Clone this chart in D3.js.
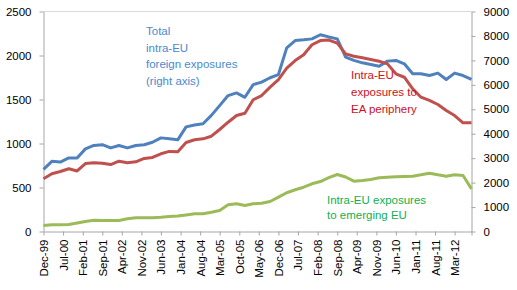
<!DOCTYPE html>
<html>
<head>
<meta charset="utf-8">
<script src="https://cdn.jsdelivr.net/npm/d3@7"></script>
<style>
  body { margin: 0; background: #fff; }
  svg { display: block; font-family: "Liberation Sans", Arial, sans-serif; }
</style>
</head>
<body>
<svg id="chart" width="517" height="290"></svg>
<script>
// quarterly observations, Dec-99 .. Sep-12
var quarters = [
    "Dec-99", "Mar-00", "Jun-00", "Sep-00", "Dec-00", "Mar-01", "Jun-01", "Sep-01",
    "Dec-01", "Mar-02", "Jun-02", "Sep-02", "Dec-02", "Mar-03", "Jun-03", "Sep-03",
    "Dec-03", "Mar-04", "Jun-04", "Sep-04", "Dec-04", "Mar-05", "Jun-05", "Sep-05",
    "Dec-05", "Mar-06", "Jun-06", "Sep-06", "Dec-06", "Mar-07", "Jun-07", "Sep-07",
    "Dec-07", "Mar-08", "Jun-08", "Sep-08", "Dec-08", "Mar-09", "Jun-09", "Sep-09",
    "Dec-09", "Mar-10", "Jun-10", "Sep-10", "Dec-10", "Mar-11", "Jun-11", "Sep-11",
    "Dec-11", "Mar-12", "Jun-12", "Sep-12"
];

// total intra-EU foreign exposures (right axis)
var totalExposures = [
    2540, 2870, 2840, 3010, 3010, 3380, 3520, 3550, 3420, 3520, 3420, 3520,
    3550, 3650, 3830, 3790, 3750, 4280, 4360, 4410, 4750, 5150, 5560, 5670,
    5490, 6010, 6110, 6290, 6420, 7510, 7810, 7840, 7880, 8050, 7960, 7880,
    7130, 7000, 6900, 6830, 6760, 6970, 7000, 6860, 6450, 6450, 6380, 6480,
    6220, 6480, 6380, 6220
];

// intra-EU exposures to EA periphery (left axis)
var peripheryExposures = [
    600, 656, 682, 713, 688, 772, 782, 776, 761, 799, 781, 792,
    830, 842, 883, 910, 905, 1012, 1042, 1053, 1083, 1159, 1242, 1318,
    1344, 1497, 1545, 1640, 1727, 1856, 1943, 2008, 2122, 2170, 2175, 2140,
    2019, 1992, 1974, 1955, 1935, 1905, 1792, 1753, 1622, 1526, 1489, 1443,
    1375, 1318, 1235, 1235
];

// intra-EU exposures to emerging EU (left axis)
var emergingExposures = [
    68, 76, 77, 80, 97, 114, 128, 126, 125, 125, 144, 156,
    156, 156, 161, 170, 176, 188, 201, 201, 219, 239, 303, 315,
    295, 315, 322, 341, 390, 440, 474, 503, 542, 568, 612, 648,
    619, 572, 580, 591, 610, 617, 622, 625, 628, 644, 663, 644,
    628, 644, 636, 485
];

var leftTicks = [0, 500, 1000, 1500, 2000, 2500];
var rightTicks = [0, 1000, 2000, 3000, 4000, 5000, 6000, 7000, 8000, 9000];
var dateTicks = [
    "Dec-99", "Jul-00", "Feb-01", "Sep-01", "Apr-02", "Nov-02", "Jun-03", "Jan-04",
    "Aug-04", "Mar-05", "Oct-05", "May-06", "Dec-06", "Jul-07", "Feb-08", "Sep-08",
    "Apr-09", "Nov-09", "Jun-10", "Jan-11", "Aug-11", "Mar-12"
];

var totalLabel = ["Total", "intra-EU", "foreign exposures", "(right axis)"];
var peripheryLabel = ["Intra-EU", "exposures to", "EA periphery"];
var emergingLabel = ["Intra-EU exposures", "to emerging EU"];

var parse = d3.timeParse("%b-%y");
var dates = quarters.map(parse);

var LEFT = 43.5, RIGHT = 471.5, TOP = 11.5, BOTTOM = 231.5;
var AXIS_COLOR = "#a6a6a6";

var svg = d3.select("#chart");

var x = d3.scaleTime()
    .domain([dates[0], dates[dates.length - 1]])
    .range([LEFT, RIGHT]);
var yLeft = d3.scaleLinear().domain([0, 2500]).range([BOTTOM, TOP]);
var yRight = d3.scaleLinear().domain([0, 9000]).range([BOTTOM, TOP]);

// plot frame top edge
svg.append("line")
    .attr("x1", LEFT).attr("x2", RIGHT)
    .attr("y1", TOP).attr("y2", TOP)
    .attr("stroke", "#d9d9d9");

function styleAxis(g) {
    g.selectAll(".domain, .tick line").attr("stroke", AXIS_COLOR);
    g.selectAll(".tick text")
        .attr("fill", "#000")
        .style("font-size", "11.5px")
        .style("font-family", "\"Liberation Sans\", Arial, sans-serif");
}

svg.append("g")
    .attr("transform", "translate(" + LEFT + ",0)")
    .call(d3.axisLeft(yLeft).tickValues(leftTicks).tickFormat(d3.format("d"))
        .tickSize(4).tickSizeOuter(0).tickPadding(8))
    .call(styleAxis);

svg.append("g")
    .attr("transform", "translate(" + RIGHT + ",0)")
    .call(d3.axisRight(yRight).tickValues(rightTicks).tickFormat(d3.format("d"))
        .tickSize(4).tickSizeOuter(0).tickPadding(8))
    .call(styleAxis);

var xAxis = svg.append("g")
    .attr("transform", "translate(0," + BOTTOM + ")")
    .call(d3.axisBottom(x)
        .tickValues(dateTicks.map(parse).concat([x.domain()[1]]))
        .tickFormat(function (d, i) { return dateTicks[i] || ""; })
        .tickSize(4).tickSizeOuter(0))
    .call(styleAxis);

xAxis.selectAll(".tick text")
    .attr("transform", "rotate(-90)")
    .attr("text-anchor", "end")
    .attr("x", -8)
    .attr("y", 0)
    .attr("dy", "0.35em");

// series lines
var series = [
    { values: totalExposures, scale: yRight, color: "#4f81bd" },
    { values: peripheryExposures, scale: yLeft, color: "#c0504d" },
    { values: emergingExposures, scale: yLeft, color: "#9bbb59" }
];

series.forEach(function (s) {
    var line = d3.line()
        .x(function (d, i) { return x(dates[i]); })
        .y(function (d) { return s.scale(d); });
    svg.append("path")
        .datum(s.values)
        .attr("fill", "none")
        .attr("stroke", s.color)
        .attr("stroke-width", 3)
        .attr("stroke-linejoin", "round")
        .attr("d", line);
});

// in-chart labels
function addLabel(lines, px, py, step, color) {
    var t = svg.append("text")
        .attr("fill", color)
        .style("font-size", "11.5px");
    t.selectAll("tspan")
        .data(lines)
        .join("tspan")
        .attr("x", px)
        .attr("y", function (d, i) { return py + i * step; })
        .text(function (d) { return d; });
}

addLabel(totalLabel, 146, 35, 16.5, "#4a8ad0");
addLabel(peripheryLabel, 351, 79, 17, "#d01020");
addLabel(emergingLabel, 327, 203.5, 15, "#10b050");
</script>
</body>
</html>
